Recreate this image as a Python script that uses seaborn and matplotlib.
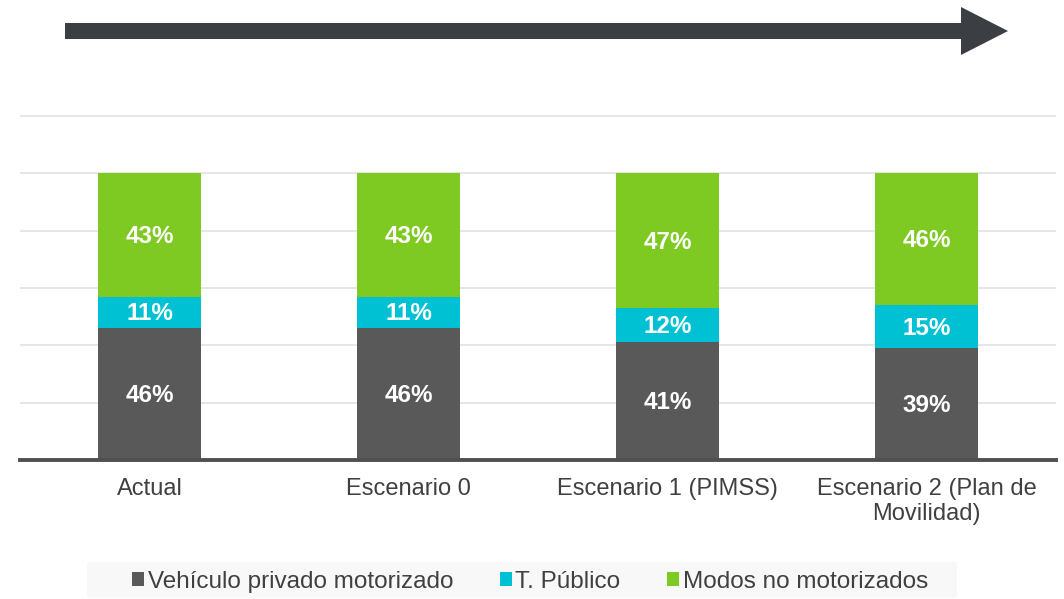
import numpy as np
import pandas as pd
import matplotlib
matplotlib.use('Agg')
import matplotlib.pyplot as plt
from matplotlib.patches import Patch, Polygon, Rectangle
import seaborn as sns

# Data (shares of trips, %)
categories = ["Actual", "Escenario 0", "Escenario 1 (PIMSS)", "Escenario 2 (Plan de\nMovilidad)"]
series_names = ["Vehículo privado motorizado", "T. Público", "Modos no motorizados"]
privado = [46, 46, 41, 39]
publico = [11, 11, 12, 15]
no_motor = [43, 43, 47, 46]

colors = ["#595959", "#00C1D3", "#7FC923"]
text_col = "#404040"

sns.set_theme(style="white")
plt.rcParams['font.family'] = ['Liberation Sans', 'DejaVu Sans']

df = pd.DataFrame({
    "cat": categories,
    "privado": np.array(privado) / 100,
    "publico": np.array(publico) / 100,
    "no_motor": np.array(no_motor) / 100,
})
df["c1"] = df["privado"]
df["c2"] = df["privado"] + df["publico"]
df["c3"] = df["c2"] + df["no_motor"]

fig = plt.figure(figsize=(10.64, 5.99), dpi=100)
ax = fig.add_axes([20 / 1064, 139 / 599, 1036 / 1064, 347 / 599])

# stacked bars: draw cumulative totals, tallest first
for col, c in zip(["c3", "c2", "c1"], colors[::-1]):
    sns.barplot(data=df, x="cat", y=col, order=categories, color=c,
                width=0.4, saturation=1, linewidth=0, ax=ax, zorder=3)

ax.set_xlim(-0.5, 3.5)
ax.set_ylim(0, 1.21)
ax.set_yticks(np.arange(0, 1.21, 0.2))
ax.yaxis.grid(True, color="#E6E6E6", linewidth=1.4, zorder=0)
ax.set_axisbelow(True)
ax.set_yticklabels([])
ax.tick_params(axis="y", length=0)
ax.tick_params(axis="x", length=0, pad=13, labelsize=17, labelcolor=text_col)
for lbl in ax.get_xticklabels():
    lbl.set_multialignment("center")
ax.set_xlabel("")
ax.set_ylabel("")
for s in ["top", "right", "left"]:
    ax.spines[s].set_visible(False)
ax.spines["bottom"].set_color("#505050")
ax.spines["bottom"].set_linewidth(2.8)
ax.spines["bottom"].set_zorder(5)

# segment labels
for i in range(len(categories)):
    lows = [0, df["c1"][i], df["c2"][i]]
    vals = [privado[i], publico[i], no_motor[i]]
    for lo, v in zip(lows, vals):
        ax.text(i, lo + v / 200 - 0.005, f"{v}%", ha="center", va="center",
                color="white", fontsize=17.5, fontweight="bold", zorder=6)

# big arrow on top
W, H = 1064, 599
pts = [(65, 23), (961, 23), (961, 7), (1008, 31), (961, 55), (961, 39), (65, 39)]
fig.patches.append(Polygon([(x / W, 1 - y / H) for x, y in pts], closed=True,
                           transform=fig.transFigure, facecolor="#3B3E43",
                           edgecolor="none"))

# legend with light background
fig.patches.append(Rectangle((87 / W, 1 - 598 / H), (957 - 87) / W, 36 / H,
                             transform=fig.transFigure, facecolor="#F8F8F8",
                             edgecolor="none", zorder=0))
handles = [Patch(facecolor=c, edgecolor="none") for c in colors]
leg = fig.legend(handles, series_names, loc="center", bbox_to_anchor=(530 / W, 1 - 582 / H),
                 ncol=3, frameon=False, fontsize=17.5, handlelength=0.5, handleheight=0.5,
                 handletextpad=0.15, columnspacing=1.9, labelcolor=text_col)

fig.savefig("out.png", dpi=100)
